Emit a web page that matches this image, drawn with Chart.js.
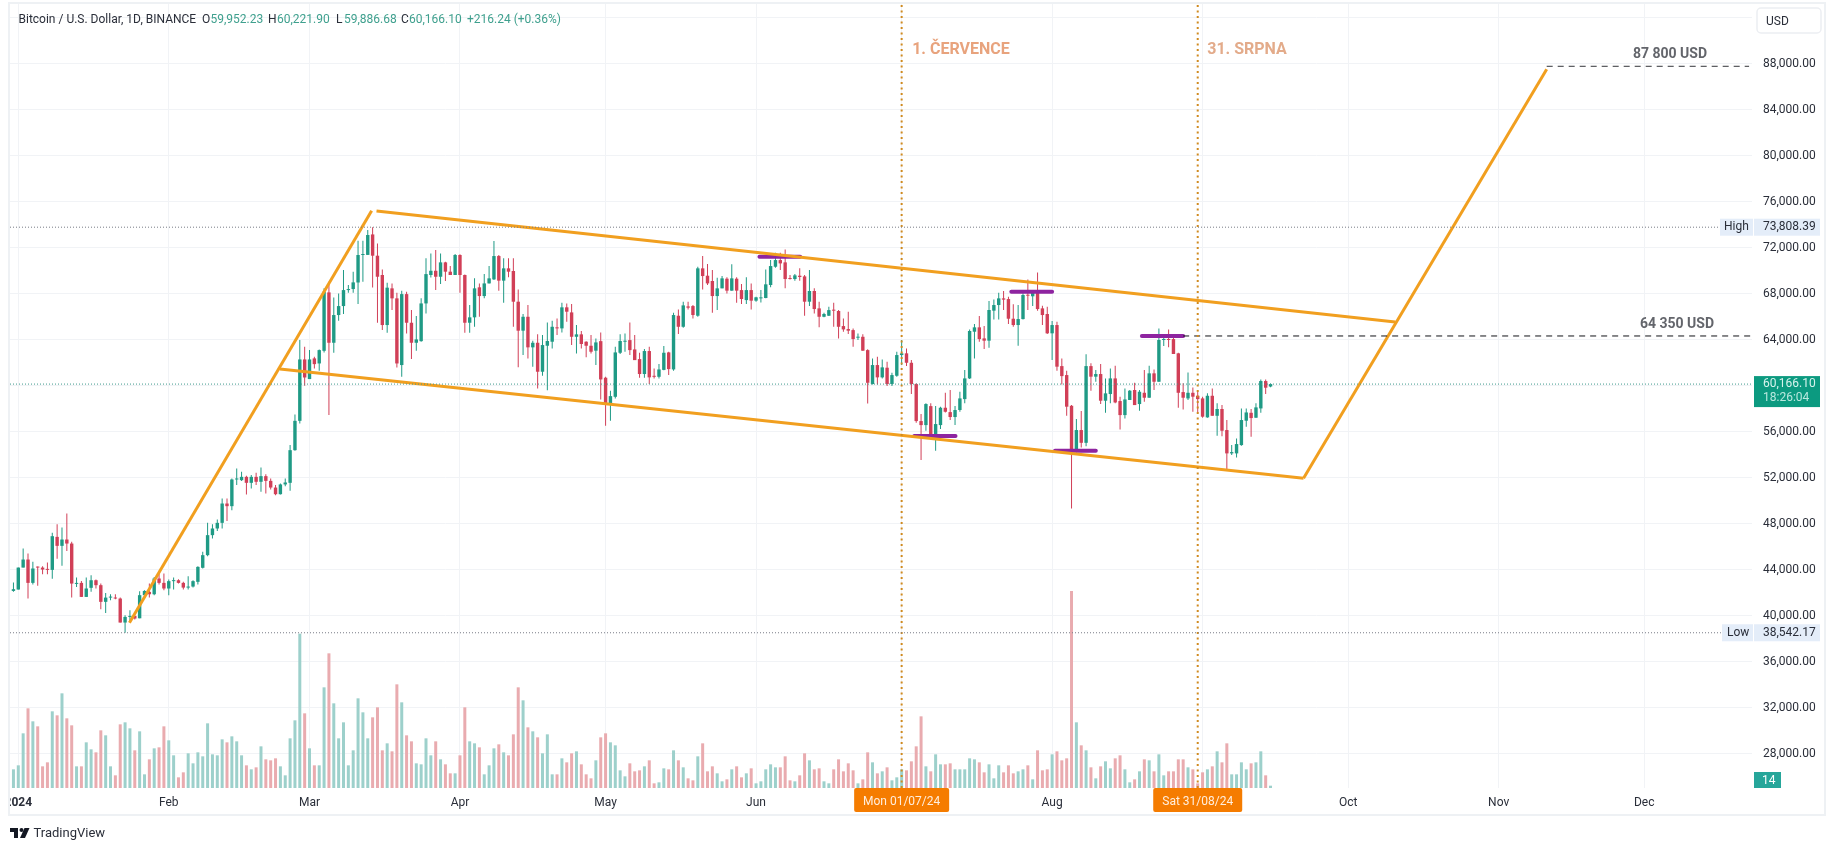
<!DOCTYPE html>
<html>
<head>
<meta charset="utf-8">
<title>Bitcoin / U.S. Dollar</title>
<script src="https://cdn.jsdelivr.net/npm/chart.js@4"></script>
<style>
  html, body { margin: 0; padding: 0; background: #fff; }
  canvas { display: block; }
</style>
</head>
<body>
<canvas id="btcChart" width="1835" height="851"></canvas>
<script>
// Days are counted from 1 Jan 2024, the first candle is 31 Dec 2023
const firstDay = -1

const opens = [
  42180, 42300, 44210, 44910, 42880, 44270, 44210, 44040, 44010, 46880,
  46100, 46650, 46300, 42790, 42880, 41660, 42450, 43110, 42680, 41230,
  41600, 41600, 41520, 39430, 39920, 40000, 39800, 41810, 42100, 41890,
  43260, 42880, 42390, 43030, 43110, 42880, 42470, 42560, 42970, 44190,
  45290, 47030, 47610, 48100, 49780, 49550, 51870, 51810, 52100, 51580,
  52100, 51670, 52160, 51750, 51170, 50590, 51440, 51580, 54420, 56970,
  62310, 60600, 62400, 61960, 63060, 68140, 63760, 66170, 66950, 68340,
  68430, 69000, 71390, 71400, 73180, 71330, 69650, 65300, 68490, 67620,
  61820, 67990, 65500, 63760, 63900, 67180, 69650, 70020, 69500, 70750,
  69940, 69650, 71390, 69650, 65500, 65970, 68580, 67820, 68920, 69270,
  71300, 69160, 70230, 70000, 67330, 64810, 66020, 63360, 63760, 61240,
  63500, 63850, 65100, 65010, 66840, 66400, 64280, 64490, 63850, 63500,
  63070, 63900, 60720, 58430, 59060, 62890, 63850, 63990, 63180, 62340,
  61040, 63040, 60860, 60800, 61400, 62920, 61440, 66110, 65150, 66920,
  66950, 66110, 70230, 69590, 69130, 67820, 68490, 69330, 68290, 69330,
  68340, 67470, 68340, 67420, 67620, 67650, 68780, 70370, 70950, 70750,
  69360, 69300, 69590, 69530, 67330, 68260, 66750, 66020, 66110, 66600,
  66520, 65210, 64950, 64860, 64200, 64280, 63120, 60170, 61820, 60750,
  61590, 60170, 60890, 62690, 62840, 62020, 60170, 56950, 56600, 58250,
  55820, 56600, 58110, 57730, 57300, 57910, 58860, 60660, 64720, 65100,
  64140, 63940, 66550, 67040, 67620, 67560, 65850, 65300, 65820, 67910,
  67800, 68110, 66750, 66260, 64580, 65300, 61730, 60950, 58280, 54280,
  56170, 55060, 61730, 60810, 61040, 58720, 59300, 60660, 58690, 57470,
  58780, 59650, 58430, 59410, 58980, 61100, 60370, 64000, 64080, 64080,
  62840, 59470, 58920, 59410, 59150, 58920, 57270, 59150, 57410, 58000,
  56170, 54140, 54140, 54860, 56980, 57670, 57240, 58050, 60430, 59952.23
]
const highs = [
  42910, 44210, 45870, 45430, 44710, 44300, 44330, 44650, 47230, 47980,
  47690, 48910, 46450, 43340, 43050, 43340, 43550, 43170, 42820, 42010,
  41890, 41890, 41600, 40070, 40500, 40070, 42160, 42240, 42820, 43400,
  43840, 43690, 43170, 43340, 43200, 42970, 43460, 43110, 44330, 45580,
  48100, 47980, 48390, 50220, 50220, 51960, 52830, 52540, 52190, 52250,
  52450, 52910, 52330, 51960, 51380, 51520, 51960, 54860, 57530, 63990,
  63410, 63120, 62540, 63180, 68490, 69070, 67700, 68050, 70080, 68780,
  69940, 72630, 72630, 73560, 73808, 72400, 70140, 68980, 68920, 68110,
  68280, 68200, 66600, 66080, 67620, 71100, 71530, 71820, 71530, 70810,
  70430, 71470, 71450, 69700, 67040, 69360, 68920, 69740, 70430, 72610,
  71390, 71100, 71100, 71100, 68400, 66260, 67040, 63940, 64490, 64430,
  65530, 65680, 65880, 67240, 67180, 67130, 65300, 64780, 63900, 64430,
  64140, 64660, 60800, 59590, 63410, 64490, 64570, 65530, 64430, 62890,
  63210, 63410, 61530, 61910, 63470, 62980, 66370, 66660, 67330, 67330,
  67040, 70370, 71300, 70610, 70080, 69420, 69560, 69450, 70580, 69450,
  68870, 69450, 68920, 67760, 68340, 70140, 70950, 71590, 71590, 71880,
  69650, 69740, 70230, 69650, 70080, 68490, 67330, 66370, 66890, 67240,
  66600, 65880, 66460, 65010, 64570, 64490, 63200, 62400, 62540, 62310,
  62110, 61150, 62980, 64000, 63270, 62260, 60230, 57560, 58490, 58490,
  58250, 58200, 59410, 59650, 58250, 59500, 61390, 64920, 65390, 66080,
  65210, 67390, 67530, 68110, 68260, 67770, 67100, 67040, 68060, 69270,
  68350, 69880, 66980, 66900, 65650, 65590, 62400, 61330, 58340, 57120,
  57820, 62750, 61970, 61390, 61910, 60660, 61530, 61760, 59070, 59790,
  59650, 60280, 59650, 61390, 61760, 61440, 65010, 64290, 64920, 64490,
  62890, 60230, 61180, 59880, 59500, 59070, 59360, 59790, 58490, 58340,
  57040, 54860, 55440, 58050, 58050, 58000, 58490, 60570, 60570, 60221.90
]
const lows = [
  42100, 42300, 44210, 41520, 42740, 42620, 43630, 43630, 43230, 44970,
  44360, 45660, 41600, 42530, 41660, 41660, 42100, 42390, 40590, 40270,
  41370, 41460, 39430, 38542, 39570, 39690, 39800, 41660, 41600, 41810,
  42740, 42240, 41810, 42300, 42820, 42300, 42300, 42470, 42740, 44130,
  45200, 46740, 47400, 47610, 48270, 49200, 51380, 51730, 50570, 51090,
  51380, 50800, 50650, 51000, 50510, 50570, 51290, 50880, 54360, 56740,
  60020, 60600, 61530, 61320, 62920, 57470, 62890, 65670, 66250, 68110,
  68110, 67120, 69070, 71390, 68570, 65500, 64860, 64630, 66600, 61610,
  60800, 64570, 62340, 63060, 63850, 66310, 69440, 68340, 68860, 69130,
  69650, 69650, 68110, 64630, 64630, 65150, 66020, 67620, 68920, 69210,
  68290, 67240, 69450, 65150, 61620, 62690, 62400, 61670, 59790, 60890,
  59640, 63270, 64430, 64660, 65590, 63560, 62830, 63270, 62490, 62830,
  61820, 58830, 56540, 56980, 58920, 62780, 62980, 62690, 62250, 60720,
  60720, 60170, 60660, 60660, 61380, 60950, 61330, 64520, 65070, 66660,
  65880, 66020, 68400, 68780, 66370, 66600, 68490, 68050, 68290, 67240,
  67130, 67130, 66660, 67330, 67270, 67620, 68580, 70290, 70080, 68490,
  69270, 69160, 69160, 66110, 66950, 66310, 65100, 65970, 66080, 65150,
  64140, 64720, 64520, 63410, 63990, 63070, 58480, 60140, 60140, 60660,
  59990, 59990, 60800, 61820, 61730, 59300, 56800, 53560, 56110, 55590,
  54370, 56250, 57700, 57040, 56600, 57760, 58490, 60600, 62400, 63850,
  63210, 63330, 65790, 65790, 66610, 65390, 65160, 63500, 65790, 66610,
  66950, 66550, 65300, 64520, 62260, 61330, 60140, 57410, 49350, 54220,
  54660, 54770, 59590, 60370, 58430, 57670, 58490, 58490, 56220, 57180,
  58780, 58340, 57850, 58630, 58980, 59650, 60370, 63470, 63360, 62780,
  58110, 57960, 58780, 57760, 57700, 57240, 57240, 57410, 55670, 55640,
  52630, 53990, 53790, 54800, 56460, 55590, 57240, 57670, 59300, 59886.68
]
const closes = [
  42330, 44210, 44910, 42880, 44130, 44210, 44040, 44010, 46940, 46100,
  46650, 46300, 42820, 42880, 41660, 42390, 43110, 42680, 41230, 41600,
  41660, 41520, 39430, 39920, 40000, 39780, 41810, 42180, 41890, 43260,
  42880, 42390, 43030, 43110, 42880, 42470, 42560, 43030, 44270, 45290,
  47030, 47610, 48100, 49780, 49550, 51870, 51900, 52100, 51580, 52100,
  51670, 52160, 51750, 51170, 50590, 51440, 51610, 54420, 56970, 62310,
  60740, 62310, 61900, 63120, 68200, 63760, 66170, 66950, 68340, 68430,
  69010, 71390, 71450, 73130, 71330, 69500, 65300, 68550, 67620, 61960,
  67990, 65500, 63760, 64050, 67180, 69730, 70020, 69500, 70750, 69940,
  69650, 71390, 69650, 65500, 65970, 68490, 67820, 68920, 69360, 71300,
  69160, 70230, 69940, 67330, 64810, 66020, 63360, 63760, 61240, 63560,
  63910, 65150, 65010, 66840, 66460, 64280, 64490, 63650, 63500, 62980,
  63790, 60570, 58430, 59120, 62920, 63910, 63910, 63120, 62250, 61040,
  63040, 60750, 60800, 61440, 62890, 61470, 66170, 65150, 67010, 66810,
  66170, 70230, 69560, 68920, 67820, 68490, 69360, 68290, 69360, 68290,
  67560, 68340, 67420, 67710, 67680, 68840, 70430, 70950, 70660, 69300,
  69300, 69620, 69480, 67330, 68260, 66690, 66020, 66260, 66600, 66550,
  65150, 64920, 64810, 64080, 64260, 63070, 60280, 61820, 60750, 61620,
  60170, 60950, 62690, 62840, 62020, 60170, 56950, 56600, 58430, 55820,
  56690, 58110, 57760, 57300, 57910, 58920, 60660, 64780, 65100, 64080,
  63940, 66610, 67040, 67620, 67510, 65850, 65300, 65820, 67910, 67850,
  68110, 66690, 66170, 64580, 65300, 61680, 60860, 58200, 54280, 56170,
  55060, 61730, 60810, 61040, 58720, 59360, 60660, 58570, 57470, 58830,
  59590, 58340, 59500, 58980, 61100, 60370, 64000, 64080, 64000, 62780,
  59410, 58980, 59410, 59070, 58860, 57330, 59150, 57410, 58000, 56110,
  54140, 54250, 54950, 57040, 57700, 57210, 58140, 60430, 59850, 60166.10
]
const volumes = [
  112, 136, 328, 478, 400, 370, 130, 154, 460, 436,
  568, 418, 376, 130, 130, 274, 232, 214, 346, 316,
  130, 76, 382, 394, 358, 226, 340, 82, 172, 238,
  244, 370, 286, 196, 64, 94, 208, 148, 214, 190,
  388, 202, 196, 292, 274, 310, 280, 196, 136, 112,
  124, 250, 172, 166, 178, 130, 76, 298, 406, 926,
  448, 238, 136, 136, 604, 808, 508, 298, 394, 136,
  226, 538, 454, 298, 424, 484, 226, 268, 220, 622,
  514, 316, 280, 148, 142, 298, 196, 280, 172, 142,
  88, 88, 196, 484, 280, 268, 244, 82, 136, 238,
  262, 214, 196, 322, 604, 526, 364, 340, 304, 208,
  322, 82, 82, 178, 154, 208, 220, 142, 82, 58,
  166, 304, 328, 274, 256, 106, 70, 148, 100, 106,
  130, 166, 28, 34, 118, 112, 226, 166, 124, 58,
  46, 190, 268, 100, 130, 88, 40, 52, 112, 130,
  64, 88, 118, 28, 40, 112, 142, 124, 124, 190,
  46, 40, 76, 208, 166, 112, 118, 40, 28, 112,
  172, 100, 148, 106, 28, 52, 214, 154, 88, 100,
  124, 46, 64, 112, 106, 160, 250, 430, 130, 100,
  202, 142, 142, 148, 112, 112, 112, 178, 172, 154,
  94, 142, 58, 136, 94, 136, 88, 100, 112, 136,
  52, 226, 106, 112, 202, 220, 166, 178, 1182, 394,
  256, 226, 124, 58, 130, 160, 118, 178, 196, 112,
  34, 52, 100, 172, 166, 100, 202, 76, 100, 100,
  172, 172, 124, 112, 28, 94, 112, 130, 220, 154,
  268, 82, 82, 154, 112, 148, 154, 220, 76, 14
]

const monthDays = [0, 31, 60, 91, 121, 152, 182, 213, 244, 274, 305, 335]
const monthLabels = ['2024', 'Feb', 'Mar', 'Apr', 'May', 'Jun', 'Jul', 'Aug', 'Sep', 'Oct', 'Nov', 'Dec']
const priceTicks = [92000, 88000, 84000, 80000, 76000, 72000, 68000, 64000, 60000, 56000, 52000, 48000, 44000, 40000, 36000, 32000, 28000]

// Drawn levels and trend lines, as [day, price]
const rallyLine = [[22.9, 39420], [72.8, 75240]]
const channelTop = [[73.8, 75220], [283.7, 65560]]
const channelBottom = [[53.9, 61480], [264.8, 51970]]
const targetLine = [[264.8, 51970], [314.9, 87540]]
const purpleLevels = [
  [[152.7, 71240], [161.1, 71240]],
  [[184.6, 55650], [193.1, 55650]],
  [[204.6, 68200], [213, 68200]],
  [[213.6, 54370], [222, 54370]],
  [[231.5, 64350], [240, 64350]]
]
const highPrice = 73808.39
const lowPrice = 38542.17
const lastPrice = 60166.10
const targetPrice = 87800
const resistancePrice = 64350
const markerDays = [182, 243]

const xMin = -1.71
const xMax = 357.2
const yMin = 25043
const yMax = 93217
const volMax = 4704

const upColor = '#1f9a85'
const downColor = '#d13f57'
const upVolColor = '#9dd0cb'
const downVolColor = '#e9abaf'
const gridColor = '#f1f3f6'
const orange = '#f19f1f'
const fontName = 'Roboto'

const days = opens.map((_, i) => i + firstDay)
const candleColors = opens.map((o, i) => closes[i] >= o ? upColor : downColor)
const volumeColors = opens.map((o, i) => closes[i] >= o ? upVolColor : downVolColor)

function toPoints (pairs) {
  return pairs.map(p => ({ x: p[0], y: p[1] }))
}

function lineSet (pairs, color, width, dash, cap) {
  return {
    type: 'line',
    data: toPoints(pairs),
    borderColor: color,
    borderWidth: width,
    borderDash: dash || [],
    borderCapStyle: cap || 'butt',
    pointRadius: 0,
    tension: 0,
    order: 5
  }
}

function formatPrice (value) {
  return value.toLocaleString('en-US', { minimumFractionDigits: 2, maximumFractionDigits: 2 })
}

function drawText (ctx, text, x, y, color, font, align) {
  ctx.font = font
  ctx.fillStyle = color
  ctx.textAlign = align || 'left'
  ctx.textBaseline = 'middle'
  ctx.fillText(text, x, y)
}

// Everything that sits on top of the chart: frame, header, axis badges, drawing labels
const overlayPlugin = {
  id: 'overlay',
  afterDraw (chart) {
    const { ctx, scales } = chart
    const px = v => scales.x.getPixelForValue(v)
    const py = v => scales.y.getPixelForValue(v)
    const axisLeft = 1754
    const axisRight = 1820

    ctx.save()

    // Pane frame, also hides the left part of the 2024 label
    ctx.fillStyle = '#ffffff'
    ctx.fillRect(0, 788, 9, 30)
    ctx.fillStyle = '#eef1f4'
    ctx.fillRect(8, 2, 1818, 2)
    ctx.fillRect(8, 2, 2, 814)
    ctx.fillRect(8, 814, 1818, 2)
    ctx.fillRect(1824, 2, 2, 814)

    // Header
    const small = `12px ${fontName}`
    const green = '#3fa08e'
    drawText(ctx, 'Bitcoin / U.S. Dollar, 1D, BINANCE', 18.5, 20, '#2a2e39', small)
    drawText(ctx, 'O', 202, 20, '#2a2e39', small)
    drawText(ctx, '59,952.23', 210.5, 20, green, small)
    drawText(ctx, 'H', 268, 20, '#2a2e39', small)
    drawText(ctx, '60,221.90', 277, 20, green, small)
    drawText(ctx, 'L', 336, 20, '#2a2e39', small)
    drawText(ctx, '59,886.68', 344, 20, green, small)
    drawText(ctx, 'C', 401, 20, '#2a2e39', small)
    drawText(ctx, '60,166.10', 409, 20, green, small)
    drawText(ctx, '+216.24 (+0.36%)', 467, 20, green, small)

    // Currency button
    ctx.strokeStyle = '#eceef2'
    ctx.lineWidth = 1.5
    ctx.beginPath()
    ctx.roundRect(1757, 8, 64, 25, 4)
    ctx.stroke()
    drawText(ctx, 'USD', 1766, 21.5, '#2a2e39', small)

    // Drawing labels
    const bold = `bold 16px ${fontName}`
    drawText(ctx, '1. ČERVENCE', px(markerDays[0]) + 10.5, 49.5, '#e8a37d', bold)
    drawText(ctx, '31. SRPNA', px(markerDays[1]) + 9.5, 49.5, '#e3ab8a', bold)
    const levelFont = `bold 14px ${fontName}`
    drawText(ctx, '87 800 USD', 1670, 54.5, '#63656b', levelFont, 'center')
    drawText(ctx, '64 350 USD', 1677, 324.5, '#63656b', levelFont, 'center')

    // High / low badges
    const badge = '#e4edf9'
    const highY = py(highPrice)
    ctx.fillStyle = badge
    ctx.fillRect(1720, highY - 8.5, 33, 17)
    ctx.fillRect(axisLeft, highY - 8.5, axisRight - axisLeft, 17)
    drawText(ctx, 'High', 1724, highY, '#2a2e39', small)
    drawText(ctx, formatPrice(highPrice), 1763, highY, '#2a2e39', small)
    const lowY = py(lowPrice)
    ctx.fillStyle = badge
    ctx.fillRect(1722, lowY - 8.5, 31, 17)
    ctx.fillRect(axisLeft, lowY - 8.5, axisRight - axisLeft, 17)
    drawText(ctx, 'Low', 1727, lowY, '#2a2e39', small)
    drawText(ctx, formatPrice(lowPrice), 1763, lowY, '#2a2e39', small)

    // Last price and countdown
    const lastY = py(lastPrice)
    ctx.fillStyle = '#0c9a80'
    ctx.fillRect(axisLeft, lastY - 8, axisRight - axisLeft, 31)
    drawText(ctx, formatPrice(lastPrice), 1763, lastY - 0.5, '#d6f3ec', small)
    drawText(ctx, '18:26:04', 1763, lastY + 14, '#b9e8de', small)

    // Volume badge
    ctx.fillStyle = '#26a69a'
    ctx.fillRect(axisLeft, 772, 27, 16)
    drawText(ctx, '14', 1762, 780.5, '#ffffff', small)

    // Marker date boxes on the time axis
    const boxes = [
      { text: 'Mon 01/07/24', day: markerDays[0], half: 47.5 },
      { text: 'Sat 31/08/24', day: markerDays[1], half: 44.5 }
    ]
    boxes.forEach(box => {
      const x = px(box.day)
      ctx.fillStyle = '#f57c00'
      ctx.beginPath()
      ctx.roundRect(x - box.half, 788, box.half * 2, 24, 2)
      ctx.fill()
      drawText(ctx, box.text, x, 801.5, '#ffeedd', small, 'center')
    })

    // TradingView mark
    ctx.fillStyle = '#131722'
    ctx.fillRect(10, 828, 8, 4)
    ctx.fillRect(14, 832, 4, 6)
    ctx.beginPath()
    ctx.arc(21.5, 830, 2, 0, Math.PI * 2)
    ctx.fill()
    ctx.beginPath()
    ctx.moveTo(24.5, 828)
    ctx.lineTo(29.5, 828)
    ctx.lineTo(25, 838)
    ctx.lineTo(20, 838)
    ctx.closePath()
    ctx.fill()
    drawText(ctx, 'TradingView', 33.5, 833.5, '#2a2e39', `13px ${fontName}`)

    ctx.restore()
  }
}

new Chart(document.getElementById('btcChart'), {
  type: 'bar',
  plugins: [overlayPlugin],
  data: {
    datasets: [
      {
        label: 'Volume',
        yAxisID: 'yVol',
        data: days.map((d, i) => ({ x: d, y: volumes[i] })),
        backgroundColor: volumeColors,
        grouped: false,
        barPercentage: 1,
        maxBarThickness: 3,
        order: 20
      },
      {
        label: 'Wick',
        data: days.map((d, i) => ({ x: d, y: [lows[i], highs[i]] })),
        backgroundColor: candleColors,
        grouped: false,
        barPercentage: 1,
        maxBarThickness: 1,
        order: 12
      },
      {
        label: 'Body',
        data: days.map((d, i) => ({ x: d, y: [Math.min(opens[i], closes[i]), Math.max(opens[i], closes[i])] })),
        backgroundColor: candleColors,
        grouped: false,
        barPercentage: 1,
        maxBarThickness: 3.4,
        minBarLength: 1,
        order: 11
      },
      lineSet([[xMin, highPrice], [350.2, highPrice]], '#787b86', 1, [1, 2]),
      lineSet([[xMin, lowPrice], [350.8, lowPrice]], '#787b86', 1, [1, 2]),
      lineSet([[xMin, lastPrice], [xMax, lastPrice]], '#3f9a8c', 1, [1, 2]),
      lineSet([[markerDays[0], yMin], [markerDays[0], yMax]], '#d08a1f', 2, [2, 3.5]),
      lineSet([[markerDays[1], yMin], [markerDays[1], yMax]], '#d08a1f', 2, [2, 3.5]),
      lineSet([[240, resistancePrice], [xMax, resistancePrice]], '#111318', 1, [6, 5]),
      lineSet([[314.9, targetPrice], [356.6, targetPrice]], '#33353a', 1, [6, 5]),
      lineSet(rallyLine, orange, 3),
      lineSet(channelTop, orange, 3),
      lineSet(channelBottom, orange, 3),
      lineSet(targetLine, orange, 3),
      ...purpleLevels.map(level => lineSet(level, '#8e24a0', 4, [], 'round'))
    ]
  },
  options: {
    responsive: false,
    animation: false,
    layout: { padding: { left: 10, right: 10, top: 4, bottom: 36 } },
    plugins: {
      legend: { display: false },
      tooltip: { enabled: false }
    },
    scales: {
      x: {
        type: 'linear',
        min: xMin,
        max: xMax,
        offset: false,
        grid: { color: gridColor, offset: false, drawTicks: false },
        border: { display: false },
        afterBuildTicks: scale => { scale.ticks = monthDays.map(value => ({ value })) },
        // Fixed axis size, no room kept for the outer tick labels
        afterFit: scale => {
          scale.height = 27
          scale.paddingLeft = 0
          scale.paddingRight = 0
        },
        ticks: {
          autoSkip: false,
          maxRotation: 0,
          padding: 8,
          color: '#2a2e39',
          font: ctx => ({ family: fontName, size: 12, weight: ctx.index === 0 ? 'bold' : 'normal' }),
          callback: (value, index) => monthLabels[index]
        }
      },
      y: {
        position: 'right',
        min: yMin,
        max: yMax,
        grid: { color: gridColor, drawTicks: false },
        border: { display: false },
        afterBuildTicks: scale => { scale.ticks = priceTicks.map(value => ({ value })) },
        afterFit: scale => {
          scale.width = 73
          scale.paddingTop = 0
          scale.paddingBottom = 0
        },
        ticks: {
          autoSkip: false,
          padding: 11,
          color: '#2a2e39',
          font: { family: fontName, size: 12 },
          callback: value => value === 92000 ? '' : formatPrice(value)
        }
      },
      yVol: {
        display: false,
        min: 0,
        max: volMax
      }
    }
  }
})
</script>
</body>
</html>
